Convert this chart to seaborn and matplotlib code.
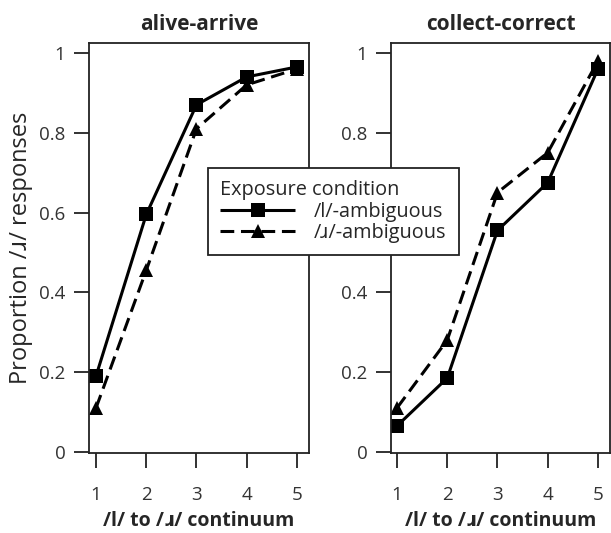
import matplotlib
matplotlib.use('Agg')
import matplotlib.pyplot as plt
import seaborn as sns
import pandas as pd

# data
steps = [1, 2, 3, 4, 5]
panels = ['alive-arrive', 'collect-correct']
conditions = ['/l/-ambiguous', '/ɹ/-ambiguous']
alive_l = [0.19, 0.595, 0.87, 0.94, 0.965]
alive_r = [0.11, 0.455, 0.81, 0.92, 0.96]
collect_l = [0.065, 0.185, 0.555, 0.675, 0.96]
collect_r = [0.11, 0.28, 0.65, 0.75, 0.98]
yticks = [0, 0.2, 0.4, 0.6, 0.8, 1]
yticklabels = ['0', '0.2', '0.4', '0.6', '0.8', '1']

rows = []
for panel, vals in [('alive-arrive', (alive_l, alive_r)), ('collect-correct', (collect_l, collect_r))]:
    for cond, v in zip(conditions, vals):
        for s, p in zip(steps, v):
            rows.append({'panel': panel, 'step': s, 'cond': cond, 'prop': p})
df = pd.DataFrame(rows)

sns.set_style('white')
plt.rcParams['font.family'] = ['Open Sans', 'DejaVu Sans']

fig = plt.figure(figsize=(6.11, 5.33), dpi=100)
W, H = 611, 533
boxes = [(89, 43, 309, 453), (391, 43, 610, 453)]
xlims = [(0.86, 5.24), (0.88, 5.24)]

for i, panel in enumerate(panels):
    l, t, r, b = boxes[i]
    ax = fig.add_axes([l / W, 1 - b / H, (r - l) / W, (b - t) / H])
    sub = df[df['panel'] == panel]
    sns.lineplot(data=sub, x='step', y='prop', style='cond', hue='cond',
                 palette=['black', 'black'], markers=['s', '^'],
                 dashes=[(1, 0), (4.5, 2.2)], markersize=10, linewidth=2.2,
                 markeredgewidth=0, ax=ax, legend=(i == 0))
    ax.set_xlim(*xlims[i])
    ax.set_ylim(-0.003, 1.025)
    ax.set_xticks(steps)
    ax.set_yticks(yticks)
    ax.set_yticklabels(yticklabels)
    ax.tick_params(axis='both', direction='out', length=11, width=1.3,
                   color='#222222', labelcolor='#333333', labelsize=13.5,
                   bottom=True, left=True)
    ax.tick_params(axis='x', pad=13)
    ax.tick_params(axis='y', pad=6)
    for sp in ax.spines.values():
        sp.set_color('#222222')
        sp.set_linewidth(1.3)
    ax.set_title(panel, fontsize=15, fontweight='bold', pad=9)
    ax.set_xlabel('/l/ to /ɹ/ continuum', fontsize=14, fontweight='bold', labelpad=5)
    if i == 0:
        ax.set_ylabel('Proportion /ɹ/ responses', fontsize=17, fontweight='medium', labelpad=4)
        handles, labels = ax.get_legend_handles_labels()
        ax.get_legend().remove()
    else:
        ax.set_ylabel('')

leg = fig.legend(handles, labels, title='Exposure condition', loc='upper left',
                 bbox_to_anchor=(208 / W, 1 - 168 / H), frameon=True, fancybox=False,
                 framealpha=1, fontsize=14.3, title_fontsize=14.3, handlelength=3.8,
                 borderpad=0.6, labelspacing=0.08, handletextpad=0.95, borderaxespad=0)
leg.set_zorder(10)
leg._legend_box.align = 'left'
leg.get_frame().set_edgecolor('#222222')
leg.get_frame().set_linewidth(1.3)
for h in leg.legend_handles:
    h.set_color('black')

fig.savefig('out.png', dpi=100)
